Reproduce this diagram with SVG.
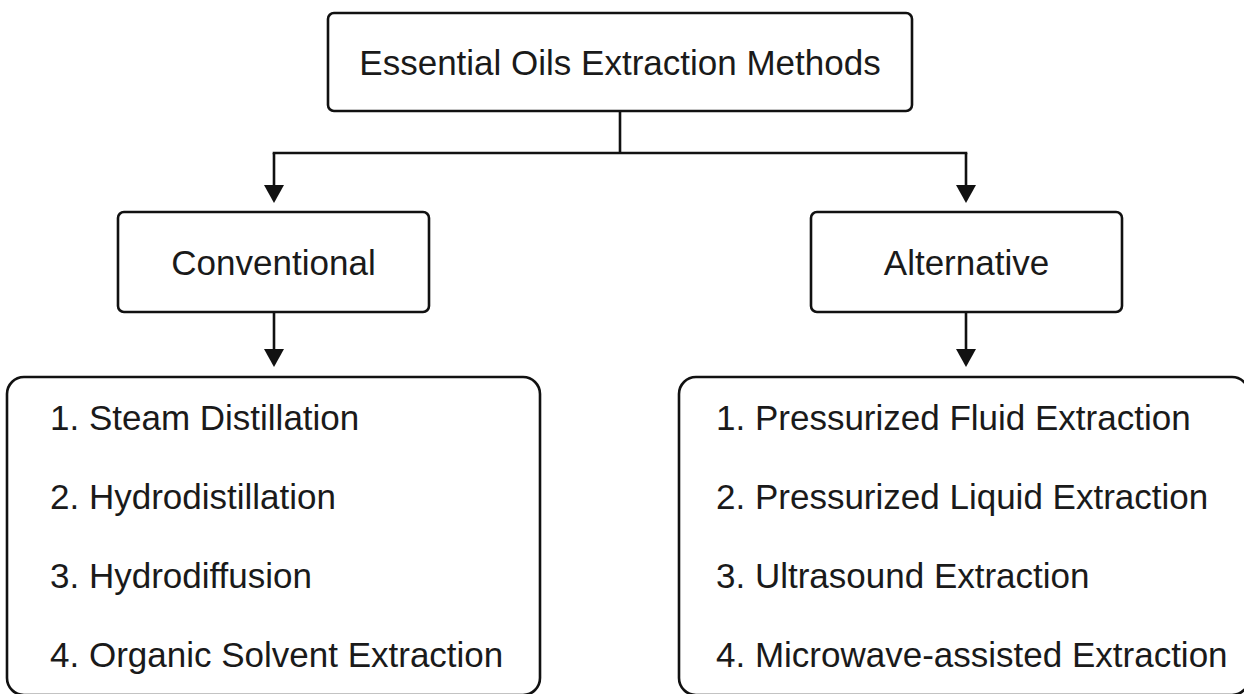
<svg xmlns="http://www.w3.org/2000/svg" width="1244" height="694" viewBox="0 0 1244 694">
<defs>
<style>
.box{fill:#fff;stroke:#111;stroke-width:2.6}
.t{font-family:"Liberation Sans",Arial,sans-serif;font-size:35px;fill:#1a1a1a}
.c{text-anchor:middle}
.ln{fill:none;stroke:#111;stroke-width:2.6}
.arr{marker-end:url(#ah)}
</style>
<marker id="ah" viewBox="0 0 18 20" refX="0" refY="10" markerWidth="18" markerHeight="20" markerUnits="userSpaceOnUse" orient="auto">
<path d="M0,0 L18,10 L0,20 Z" fill="#111"/>
</marker>
</defs>
<rect width="1244" height="694" fill="#fff"/>
<g id="connectors">
<line class="ln" x1="620" y1="111" x2="620" y2="153"/>
<line class="ln" x1="272.7" y1="153" x2="967.3" y2="153"/>
<line class="ln arr" x1="274" y1="153" x2="274" y2="185"/>
<line class="ln arr" x1="966" y1="153" x2="966" y2="185"/>
<line class="ln arr" x1="274" y1="312" x2="274" y2="349"/>
<line class="ln arr" x1="966" y1="312" x2="966" y2="349"/>
</g>
<g id="root">
<rect class="box" x="328" y="13" width="584" height="98" rx="6"/>
<text class="t c" x="620" y="74.5">Essential Oils Extraction Methods</text>
</g>
<g id="conventional">
<rect class="box" x="118" y="212" width="311" height="100" rx="6"/>
<text class="t c" x="273.5" y="274.5" fill="#2a2a2a">Conventional</text>
</g>
<g id="alternative">
<rect class="box" x="811" y="212" width="311" height="100" rx="6"/>
<text class="t c" x="966.5" y="274.5">Alternative</text>
</g>
<g id="conventional-list">
<rect class="box" x="7" y="377" width="533" height="318" rx="17"/>
<text class="t" x="50" y="430">1. Steam Distillation</text>
<text class="t" x="50" y="509">2. Hydrodistillation</text>
<text class="t" x="50" y="588">3. Hydrodiffusion</text>
<text class="t" x="50" y="667">4. Organic Solvent Extraction</text>
</g>
<g id="alternative-list">
<rect class="box" x="679" y="377" width="570" height="318" rx="17"/>
<text class="t" x="716" y="430">1. Pressurized Fluid Extraction</text>
<text class="t" x="716" y="509">2. Pressurized Liquid Extraction</text>
<text class="t" x="716" y="588">3. Ultrasound Extraction</text>
<text class="t" x="716" y="667">4. Microwave-assisted Extraction</text>
</g>
</svg>
